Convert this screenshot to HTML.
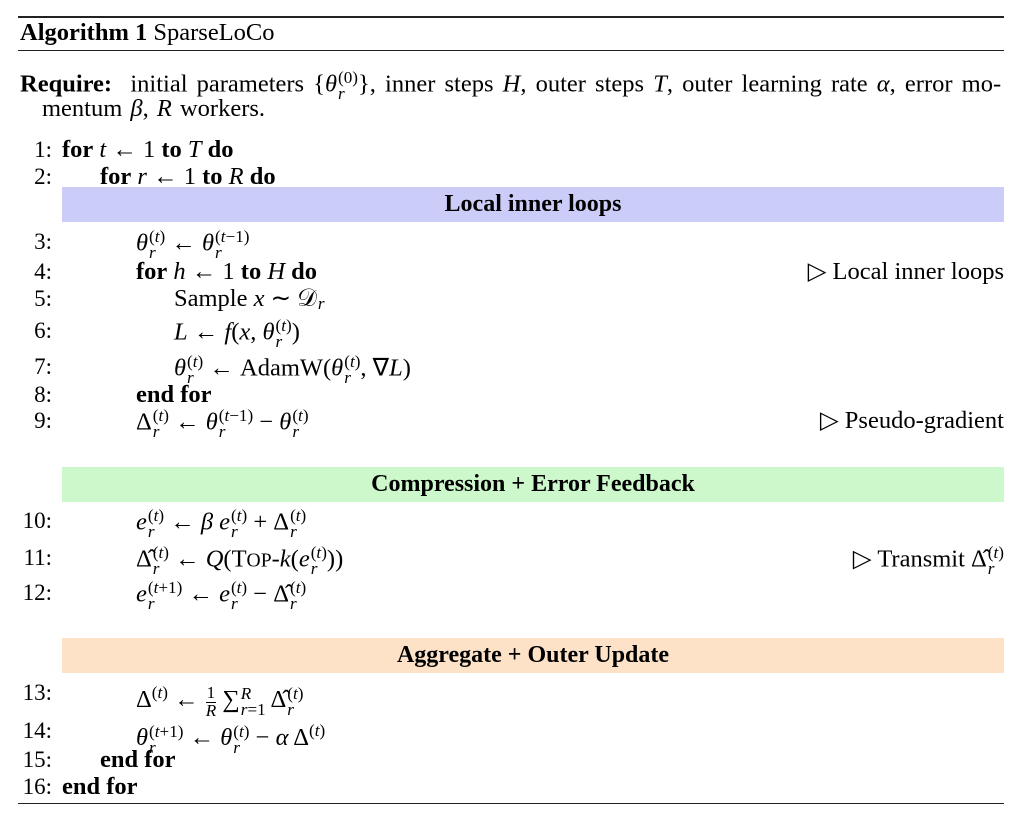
<!DOCTYPE html>
<html><head><meta charset="utf-8"><style>
body{margin:0;width:1028px;height:831px;background:#fff;font-family:"Liberation Serif",serif;font-size:24.5px;color:#000;position:relative;overflow:hidden}
.l{position:absolute;white-space:nowrap;line-height:26px}
.n{position:absolute;width:40px;text-align:right;left:12px;line-height:26px;font-size:23px}
.rule{position:absolute;left:18px;width:986px;background:#222}
.bar{position:absolute;left:62px;width:942px;height:35px;text-align:center;font-weight:bold;line-height:35px;font-size:24px}
i{font-style:italic}
.ss{display:inline-block;vertical-align:-0.45em;line-height:0.95;font-size:0.7em;text-align:left;margin-left:1px}
.ss span{display:block}
.cm{position:absolute;right:24px;line-height:26px;white-space:nowrap}
.sc{font-size:0.8em}
</style></head><body>
<div class="rule" style="top:16px;height:2px"></div>
<div class="l" style="left:20px;top:20px"><b>Algorithm 1</b> SparseLoCo</div>
<div class="rule" style="top:50px;height:1.3px"></div>
<div class="l" style="left:20px;top:70px;word-spacing:3px"><b>Require:</b>&nbsp; initial parameters {<i>θ</i><span class="ss"><span>(0)</span><span><i>r</i></span></span>}, inner steps <i>H</i>, outer steps <i>T</i>, outer learning rate <i>α</i>, error mo-</div>
<div class="l" style="left:42px;top:96px;word-spacing:2px">mentum <i>β</i>, <i>R</i> workers.</div>

<div class="n" style="top:137px">1:</div><div class="l" style="left:62px;top:137px"><b>for</b> <i>t</i> ← 1 <b>to</b> <i>T</i> <b>do</b></div>
<div class="n" style="top:164px">2:</div><div class="l" style="left:100px;top:164px"><b>for</b> <i>r</i> ← 1 <b>to</b> <i>R</i> <b>do</b></div>
<div class="bar" style="top:187px;background:#ccccf8">Local inner loops</div>

<div class="n" style="top:229px">3:</div><div class="l" style="left:136px;top:229px"><i>θ</i><span class="ss"><span>(<i>t</i>)</span><span><i>r</i></span></span> ← <i>θ</i><span class="ss"><span>(<i>t</i>−1)</span><span><i>r</i></span></span></div>
<div class="n" style="top:259px">4:</div><div class="l" style="left:136px;top:259px"><b>for</b> <i>h</i> ← 1 <b>to</b> <i>H</i> <b>do</b></div><div class="cm" style="top:259px">▷ Local inner loops</div>
<div class="n" style="top:286px">5:</div><div class="l" style="left:174px;top:286px">Sample <i>x</i> ∼ 𝒟<span class="ss" style="vertical-align:-0.2em"><span><i>r</i></span></span></div>
<div class="n" style="top:318px">6:</div><div class="l" style="left:174px;top:318px"><i>L</i> ← <i>f</i>(<i>x</i>, <i>θ</i><span class="ss"><span>(<i>t</i>)</span><span><i>r</i></span></span>)</div>
<div class="n" style="top:354px">7:</div><div class="l" style="left:174px;top:354px"><i>θ</i><span class="ss"><span>(<i>t</i>)</span><span><i>r</i></span></span> ← AdamW(<i>θ</i><span class="ss"><span>(<i>t</i>)</span><span><i>r</i></span></span>, ∇<i>L</i>)</div>
<div class="n" style="top:382px">8:</div><div class="l" style="left:136px;top:382px"><b>end for</b></div>
<div class="n" style="top:408px">9:</div><div class="l" style="left:136px;top:408px">Δ<span class="ss"><span>(<i>t</i>)</span><span><i>r</i></span></span> ← <i>θ</i><span class="ss"><span>(<i>t</i>−1)</span><span><i>r</i></span></span> − <i>θ</i><span class="ss"><span>(<i>t</i>)</span><span><i>r</i></span></span></div><div class="cm" style="top:408px">▷ Pseudo-gradient</div>

<div class="bar" style="top:467px;background:#ccf8cc">Compression + Error Feedback</div>
<div class="n" style="top:508px">10:</div><div class="l" style="left:136px;top:508px"><i>e</i><span class="ss"><span>(<i>t</i>)</span><span><i>r</i></span></span> ← <i>β</i> <i>e</i><span class="ss"><span>(<i>t</i>)</span><span><i>r</i></span></span> + Δ<span class="ss"><span>(<i>t</i>)</span><span><i>r</i></span></span></div>
<div class="n" style="top:545px">11:</div><div class="l" style="left:136px;top:545px">Δ̂<span class="ss"><span>(<i>t</i>)</span><span><i>r</i></span></span> ← <i>Q</i>(T<span class="sc">OP</span>-<i>k</i>(<i>e</i><span class="ss"><span>(<i>t</i>)</span><span><i>r</i></span></span>))</div><div class="cm" style="top:545px">▷ Transmit Δ̂<span class="ss"><span>(<i>t</i>)</span><span><i>r</i></span></span></div>
<div class="n" style="top:580px">12:</div><div class="l" style="left:136px;top:580px"><i>e</i><span class="ss"><span>(<i>t</i>+1)</span><span><i>r</i></span></span> ← <i>e</i><span class="ss"><span>(<i>t</i>)</span><span><i>r</i></span></span> − Δ̂<span class="ss"><span>(<i>t</i>)</span><span><i>r</i></span></span></div>

<div class="bar" style="top:638px;background:#fde2c8">Aggregate + Outer Update</div>
<div class="n" style="top:680px">13:</div><div class="l" style="left:136px;top:680px">Δ<sup style="font-size:0.7em">(<i>t</i>)</sup> ← <span class="ss" style="text-align:center;vertical-align:-0.5em"><span>1</span><span style="border-top:1px solid #000"><i>R</i></span></span> ∑<span class="ss"><span><i>R</i></span><span><i>r</i>=1</span></span> Δ̂<span class="ss"><span>(<i>t</i>)</span><span><i>r</i></span></span></div>
<div class="n" style="top:718px">14:</div><div class="l" style="left:136px;top:718px"><i>θ</i><span class="ss"><span>(<i>t</i>+1)</span><span><i>r</i></span></span> ← <i>θ</i><span class="ss"><span>(<i>t</i>)</span><span><i>r</i></span></span> − <i>α</i> Δ<sup style="font-size:0.7em">(<i>t</i>)</sup></div>
<div class="n" style="top:747px">15:</div><div class="l" style="left:100px;top:747px"><b>end for</b></div>
<div class="n" style="top:774px">16:</div><div class="l" style="left:62px;top:774px"><b>end for</b></div>
<div class="rule" style="top:803px;height:1.3px"></div>
</body></html>
